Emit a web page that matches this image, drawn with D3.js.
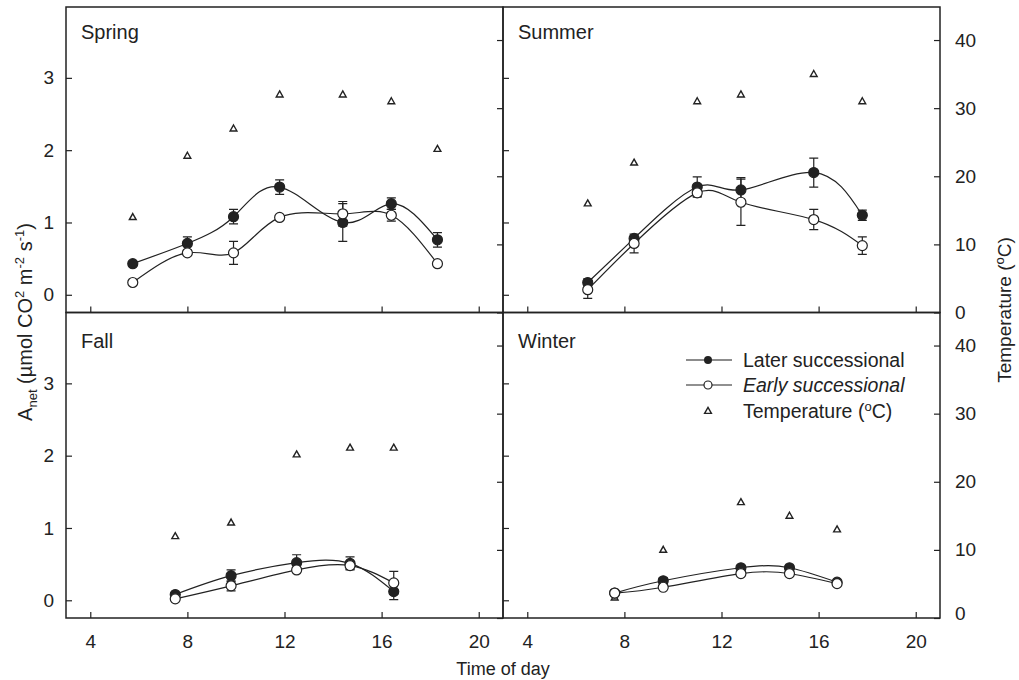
<!DOCTYPE html>
<html>
<head>
<meta charset="utf-8">
<script src="https://cdn.jsdelivr.net/npm/d3@7"></script>
<style>
  body { margin: 0; background: #fff; }
  svg text { font-family: "Liberation Sans", Arial, Helvetica, sans-serif; fill: #222; }
</style>
</head>
<body>
<div id="chart"></div>
<script>
// season data (hour of day, A_net, SE, temperature)
var seasons = ["Spring", "Summer", "Fall", "Winter"]

var springHours = [5.75, 8.0, 9.9, 11.8, 14.4, 16.4, 18.3]
var springLate = [0.43, 0.71, 1.08, 1.49, 1.00, 1.26, 0.76]
var springLateErr = [0.03, 0.09, 0.10, 0.10, 0.26, 0.08, 0.10]
var springEarly = [0.17, 0.58, 0.58, 1.07, 1.12, 1.10, 0.43]
var springEarlyErr = [0.02, 0.03, 0.16, 0.02, 0.17, 0.08, 0.02]
var springTemp = [14, 23, 27, 32, 32, 31, 24]

var summerHours = [6.49, 8.4, 11.0, 12.8, 15.8, 17.8]
var summerLate = [0.17, 0.78, 1.49, 1.45, 1.69, 1.10]
var summerLateErr = [0.05, 0.03, 0.14, 0.17, 0.20, 0.07]
var summerEarly = [0.07, 0.71, 1.41, 1.28, 1.04, 0.68]
var summerEarlyErr = [0.12, 0.13, 0.05, 0.32, 0.14, 0.12]
var summerTemp = [16, 22, 31, 32, 35, 31]

var fallHours = [7.5, 9.8, 12.5, 14.7, 16.5]
var fallLate = [0.08, 0.34, 0.52, 0.51, 0.12]
var fallLateErr = [0.02, 0.08, 0.11, 0.09, 0.11]
var fallEarly = [0.02, 0.20, 0.42, 0.48, 0.24]
var fallEarlyErr = [0.01, 0.07, 0.02, 0.05, 0.16]
var fallTemp = [12, 14, 24, 25, 25]

var winterHours = [7.6, 9.6, 12.8, 14.8, 16.76]
var winterLate = [0.10, 0.27, 0.45, 0.45, 0.25]
var winterLateErr = [0.02, 0.04, 0.03, 0.03, 0.02]
var winterEarly = [0.10, 0.18, 0.37, 0.37, 0.23]
var winterEarlyErr = [0.01, 0.01, 0.01, 0.01, 0.01]
var winterTemp = [3, 10, 17, 15, 13]

var xTicks = [4, 8, 12, 16, 20]
var anetTicks = [0, 1, 2, 3]
var tempTicks = [0, 10, 20, 30, 40]

var legendLabels = ["Later successional", "Early successional", "Temperature"]

var panelData = [
    { name: seasons[0], hours: springHours, late: springLate, lateErr: springLateErr, early: springEarly, earlyErr: springEarlyErr, temp: springTemp },
    { name: seasons[1], hours: summerHours, late: summerLate, lateErr: summerLateErr, early: summerEarly, earlyErr: summerEarlyErr, temp: summerTemp },
    { name: seasons[2], hours: fallHours, late: fallLate, lateErr: fallLateErr, early: fallEarly, earlyErr: fallEarlyErr, temp: fallTemp },
    { name: seasons[3], hours: winterHours, late: winterLate, lateErr: winterLateErr, early: winterEarly, earlyErr: winterEarlyErr, temp: winterTemp }
]

var width = 1019
var height = 680
var colX = [66, 503, 940]
var rowY = [7, 312.5, 618]
var ink = '#222'

var svg = d3.select('#chart')
    .append('svg')
    .attr('width', width)
    .attr('height', height)

function triangle(g, cx, cy) {
    g.append('path')
        .attr('d', 'M' + cx + ',' + (cy - 3.6) + 'L' + (cx + 3.4) + ',' + (cy + 2.4) + 'L' + (cx - 3.4) + ',' + (cy + 2.4) + 'Z')
        .attr('fill', '#fff')
        .attr('stroke', ink)
        .attr('stroke-width', 1.4)
}

panelData.forEach(function (p, i) {
    var col = i % 2, row = Math.floor(i / 2)
    var x0 = colX[col], x1 = colX[col + 1]
    var y0 = rowY[row], y1 = rowY[row + 1]

    var x = d3.scaleLinear().domain([3, 21]).range([x0, x1])
    var yA = d3.scaleLinear().domain([-0.245, 3.98]).range([y1, y0])
    var yT = d3.scaleLinear().domain([0, 44.85]).range([y1, y0])

    var g = svg.append('g')
    var fmt = d3.format('d')

    // axes, ticks pointing inward
    var leftAxis = d3.axisLeft(yA).tickValues(anetTicks).tickSizeInner(-6).tickSizeOuter(0).tickPadding(12)
        .tickFormat(col == 1 ? '' : fmt)
    var la = g.append('g').attr('transform', 'translate(' + x0 + ',0)').call(leftAxis)

    var rightAxis = d3.axisRight(yT).tickValues(tempTicks).tickSizeInner(-6).tickSizeOuter(0).tickPadding(15)
        .tickFormat(col == 0 ? '' : fmt)
    var ra = g.append('g').attr('transform', 'translate(' + x1 + ',0)').call(rightAxis)
    if (col == 1 && row == 1) ra.selectAll('.tick').filter(function (d) { return d == 0 }).select('text').attr('dy', '0.1em')

    var bottomAxis = d3.axisBottom(x).tickValues(xTicks).tickSizeInner(-6).tickSizeOuter(0).tickPadding(17)
        .tickFormat(row == 0 ? '' : fmt)
    var ba = g.append('g').attr('transform', 'translate(0,' + y1 + ')').call(bottomAxis)

    ;[la, ra, ba].forEach(function (a) {
        a.select('.domain').remove()
        a.selectAll('line').attr('stroke', ink).attr('stroke-width', 1.2)
        a.selectAll('text').style('font-size', '19px').attr('fill', ink)
    })

    // frame
    g.append('rect')
        .attr('x', x0).attr('y', y0)
        .attr('width', x1 - x0).attr('height', y1 - y0)
        .attr('fill', 'none')
        .attr('stroke', ink)
        .attr('stroke-width', 1.5)

    g.append('text')
        .attr('x', x0 + 15)
        .attr('y', y0 + (row == 0 ? 31.5 : 35))
        .style('font-size', '20px')
        .text(p.name)

    // temperature triangles
    p.hours.forEach(function (h, k) { triangle(g, x(h), yT(p.temp[k])) })

    var line = d3.line()
        .x(function (d) { return x(d[0]) })
        .y(function (d) { return yA(d[1]) })
        .curve(d3.curveNatural)

    var series = [
        { vals: p.late, err: p.lateErr, fill: ink },
        { vals: p.early, err: p.earlyErr, fill: '#fff' }
    ]

    series.forEach(function (s) {
        g.append('path')
            .datum(p.hours.map(function (h, k) { return [h, s.vals[k]] }))
            .attr('d', line)
            .attr('fill', 'none')
            .attr('stroke', ink)
            .attr('stroke-width', 1.2)
    })

    series.forEach(function (s) {
        p.hours.forEach(function (h, k) {
            var cx = x(h)
            var top = yA(s.vals[k] + s.err[k]), bot = yA(s.vals[k] - s.err[k])
            g.append('path')
                .attr('d', 'M' + cx + ',' + top + 'V' + bot + 'M' + (cx - 4.5) + ',' + top + 'H' + (cx + 4.5) + 'M' + (cx - 4.5) + ',' + bot + 'H' + (cx + 4.5))
                .attr('stroke', ink)
                .attr('stroke-width', 1.2)
                .attr('fill', 'none')
        })
        p.hours.forEach(function (h, k) {
            g.append('circle')
                .attr('cx', x(h))
                .attr('cy', yA(s.vals[k]))
                .attr('r', 5)
                .attr('fill', s.fill)
                .attr('stroke', ink)
                .attr('stroke-width', 1.2)
        })
    })
})

// legend (in winter panel)
var lg = svg.append('g')
var ly = [360, 385, 411]
lg.append('line').attr('x1', 686).attr('x2', 732).attr('y1', ly[0]).attr('y2', ly[0]).attr('stroke', '#666').attr('stroke-width', 1.4)
lg.append('circle').attr('cx', 708).attr('cy', ly[0]).attr('r', 4).attr('fill', ink)
lg.append('line').attr('x1', 686).attr('x2', 732).attr('y1', ly[1]).attr('y2', ly[1]).attr('stroke', ink).attr('stroke-width', 1.2)
lg.append('circle').attr('cx', 708).attr('cy', ly[1]).attr('r', 4).attr('fill', '#fff').attr('stroke', ink).attr('stroke-width', 1.2)
triangle(lg, 708, ly[2])

lg.append('text').attr('x', 743).attr('y', ly[0] + 7).style('font-size', '19.5px').text(legendLabels[0])
lg.append('text').attr('x', 743).attr('y', ly[1] + 7).style('font-size', '19.5px').style('font-style', 'italic').text(legendLabels[1])
var t3 = lg.append('text').attr('x', 743).attr('y', ly[2] + 7).style('font-size', '19.5px')
t3.append('tspan').text(legendLabels[2] + ' (')
t3.append('tspan').attr('dy', -7).style('font-size', '13px').text('o')
t3.append('tspan').attr('dy', 7).text('C)')

// axis titles
var yl = svg.append('text')
    .attr('transform', 'translate(32,322) rotate(-90)')
    .attr('text-anchor', 'middle')
    .style('font-size', '20px')
yl.append('tspan').text('A')
yl.append('tspan').attr('dy', 5).style('font-size', '13px').text('net')
yl.append('tspan').attr('dy', -5).text(' (µmol CO')
yl.append('tspan').attr('dy', -8).style('font-size', '13px').text('2')
yl.append('tspan').attr('dy', 8).text(' m')
yl.append('tspan').attr('dy', -8).style('font-size', '13px').text('-2')
yl.append('tspan').attr('dy', 8).text(' s')
yl.append('tspan').attr('dy', -8).style('font-size', '13px').text('-1')
yl.append('tspan').attr('dy', 8).text(')')

var yr = svg.append('text')
    .attr('transform', 'translate(1011,310) rotate(-90)')
    .attr('text-anchor', 'middle')
    .style('font-size', '19px')
yr.append('tspan').text('Temperature (')
yr.append('tspan').attr('dy', -7).style('font-size', '13px').text('o')
yr.append('tspan').attr('dy', 7).text('C)')

svg.append('text')
    .attr('x', 503)
    .attr('y', 675)
    .attr('text-anchor', 'middle')
    .style('font-size', '18px')
    .text('Time of day')
</script>
</body>
</html>
